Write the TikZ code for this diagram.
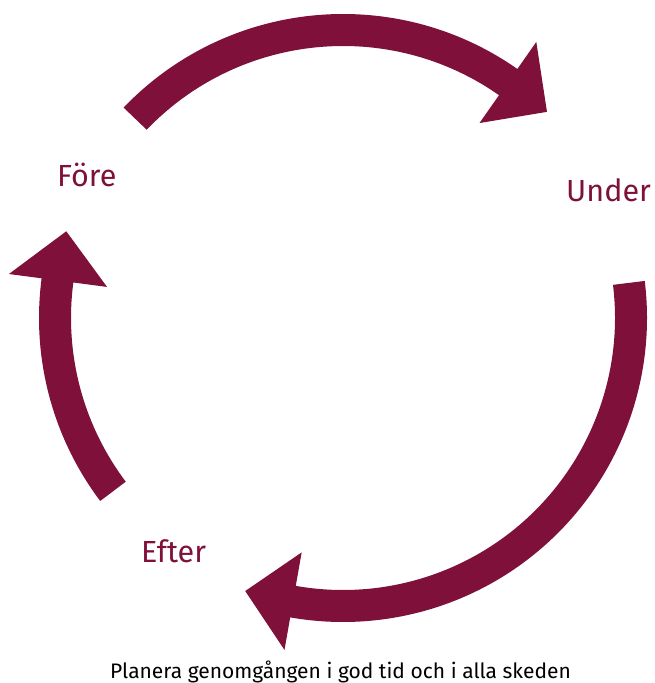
\documentclass[tikz,border=0pt]{standalone}
\usepackage{fontspec}
\setmainfont{Fira Sans}
\definecolor{maroon}{RGB}{127,16,58}
\tikzset{
  cyclearrow/.style={fill=maroon, draw=none},
  phase/.style={text=maroon, font=\fontsize{30.5}{34}\selectfont, anchor=base west, inner sep=0pt},
  caption/.style={text=black, font=\fontsize{21}{24}\selectfont, anchor=base, inner sep=0pt}
}
% Curved block arrow around the centre: #1 tail angle, #2 head base angle, #3 tip angle
\newcommand{\cyclearc}[3]{%
  \fill[cyclearrow] (#1:304) arc[start angle=#1, end angle=#2, radius=304]
    -- (#2:337) -- (#3:290) -- (#2:238) -- (#2:272)
    arc[start angle=#2, end angle=#1, radius=272] -- cycle;}
\begin{document}
\begin{tikzpicture}[x=1pt,y=1pt]
  \useasboundingbox (0,0) rectangle (654,683);
  \coordinate (centre) at (343,365);
  \begin{scope}[shift={(centre)}]
    \cyclearc{136.2}{55}{45.3}
    \cyclearc{7}{-100}{-109.7}
    \cyclearc{217}{172.5}{162.6}
  \end{scope}
  \node[phase] (fore) at (57,496) {Före};
  \node[phase] (under) at (566,481) {Under};
  \node[phase] (efter) at (141,120) {Efter};
  \node[caption] (cap) at (340.5,5) {Planera genomgången i god tid och i alla skeden};
\end{tikzpicture}
\end{document}
